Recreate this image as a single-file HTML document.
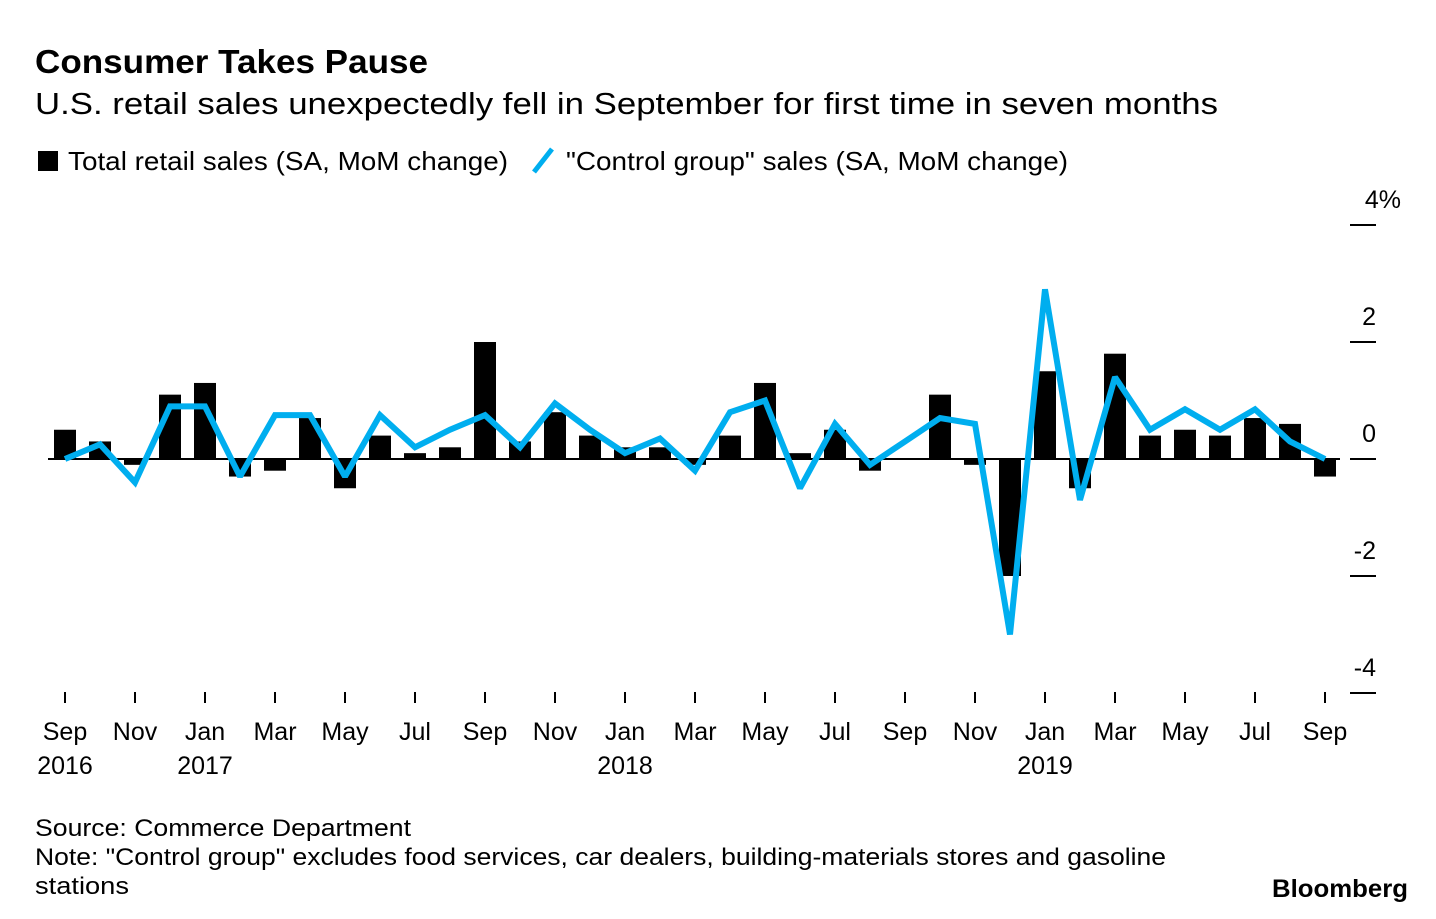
<!DOCTYPE html>
<html><head><meta charset="utf-8"><style>
body{margin:0;background:#fff;font-family:"Liberation Sans",sans-serif;}
svg text{font-family:"Liberation Sans",sans-serif;}
</style></head><body>
<svg width="1436" height="914">
<text x="35" y="73" font-size="33" font-weight="bold" textLength="393" lengthAdjust="spacingAndGlyphs">Consumer Takes Pause</text>
<text x="35" y="114" font-size="31" textLength="1183" lengthAdjust="spacingAndGlyphs">U.S. retail sales unexpectedly fell in September for first time in seven months</text>
<rect x="38" y="151" width="20" height="20" fill="#000"/>
<text x="68" y="170" font-size="26" textLength="440" lengthAdjust="spacingAndGlyphs">Total retail sales (SA, MoM change)</text>
<line x1="534" y1="172" x2="552" y2="149" stroke="#00aeef" stroke-width="5"/>
<text x="566" y="170" font-size="26" textLength="502" lengthAdjust="spacingAndGlyphs">"Control group" sales (SA, MoM change)</text>
<g id="plot"></g>
<text x="35" y="836" font-size="24" textLength="376" lengthAdjust="spacingAndGlyphs">Source: Commerce Department</text>
<text x="35" y="865" font-size="24" textLength="1131" lengthAdjust="spacingAndGlyphs">Note: "Control group" excludes food services, car dealers, building-materials stores and gasoline</text>
<text x="35" y="894" font-size="24" textLength="94" lengthAdjust="spacingAndGlyphs">stations</text>
<text x="1272" y="897" font-size="25" font-weight="bold" textLength="136" lengthAdjust="spacingAndGlyphs">Bloomberg</text>
</svg>
<script>
const totalSales=[0.5,0.3,-0.1,1.1,1.3,-0.3,-0.2,0.7,-0.5,0.4,0.1,0.2,2.0,0.3,0.8,0.4,0.2,0.2,-0.1,0.4,1.3,0.1,0.5,-0.2,0.0,1.1,-0.1,-2.0,1.5,-0.5,1.8,0.4,0.5,0.4,0.7,0.6,-0.3];
const controlGroup=[0.0,0.25,-0.4,0.9,0.9,-0.3,0.75,0.75,-0.3,0.75,0.2,0.5,0.75,0.2,0.95,0.5,0.1,0.35,-0.2,0.8,1.0,-0.5,0.6,-0.1,0.3,0.7,0.6,-3.0,2.9,-0.7,1.4,0.5,0.85,0.5,0.85,0.3,0.0];
const yTicks=[4,2,0,-2,-4];
const yTickLabels=["4%","2","0","-2","-4"];
const xLabels=["Sep","Nov","Jan","Mar","May","Jul","Sep","Nov","Jan","Mar","May","Jul","Sep","Nov","Jan","Mar","May","Jul","Sep"];
const yearLabels={0:"2016",2:"2017",8:"2018",14:"2019"};
const NS="http://www.w3.org/2000/svg";
const g=document.getElementById('plot');
const xs=i=>65+i*35;
const ys=v=>459-v*58.5;
function mk(t,a){const e=document.createElementNS(NS,t);for(const k in a)e.setAttribute(k,a[k]);g.appendChild(e);return e;}
yTicks.forEach((v,i)=>{
 const l=mk('line',{x1:1350,x2:1376,y1:ys(v),y2:ys(v),stroke:'#000','stroke-width':2});
 
 
 const t=mk('text',{x:1376,y:ys(v)-17,'font-size':25,'text-anchor':'end'});
 if(i==0){t.setAttribute('x',1401);}
 t.textContent=yTickLabels[i];
 
 
});
const zl=mk('line',{x1:48,x2:1340,y1:ys(0),y2:ys(0),stroke:'#000','stroke-width':2});


totalSales.forEach((v,i)=>{
 const r=mk('rect',{x:xs(i)-11,y:Math.min(ys(v),ys(0)),width:22,height:Math.max(Math.abs(ys(v)-ys(0)),0.5),fill:'#000'});
 
 
});
const p=mk('polyline',{points:controlGroup.map((v,i)=>xs(i)+','+ys(v)).join(' '),fill:'none',stroke:'#00aeef','stroke-width':6,'stroke-linejoin':'miter','stroke-miterlimit':2});


xLabels.forEach((s,k)=>{
 const x=xs(k*2);
 const l=mk('line',{x1:x,x2:x,y1:692,y2:703,stroke:'#000','stroke-width':2});
 
 
 const t=mk('text',{x:x,y:740,'font-size':25,'text-anchor':'middle'});
 t.textContent=s;
 
 
 if(yearLabels[k]){
  const y=mk('text',{x:x,y:774,'font-size':25,'text-anchor':'middle'});
  y.textContent=yearLabels[k];
  
  
 }
});
</script>
</body></html>
